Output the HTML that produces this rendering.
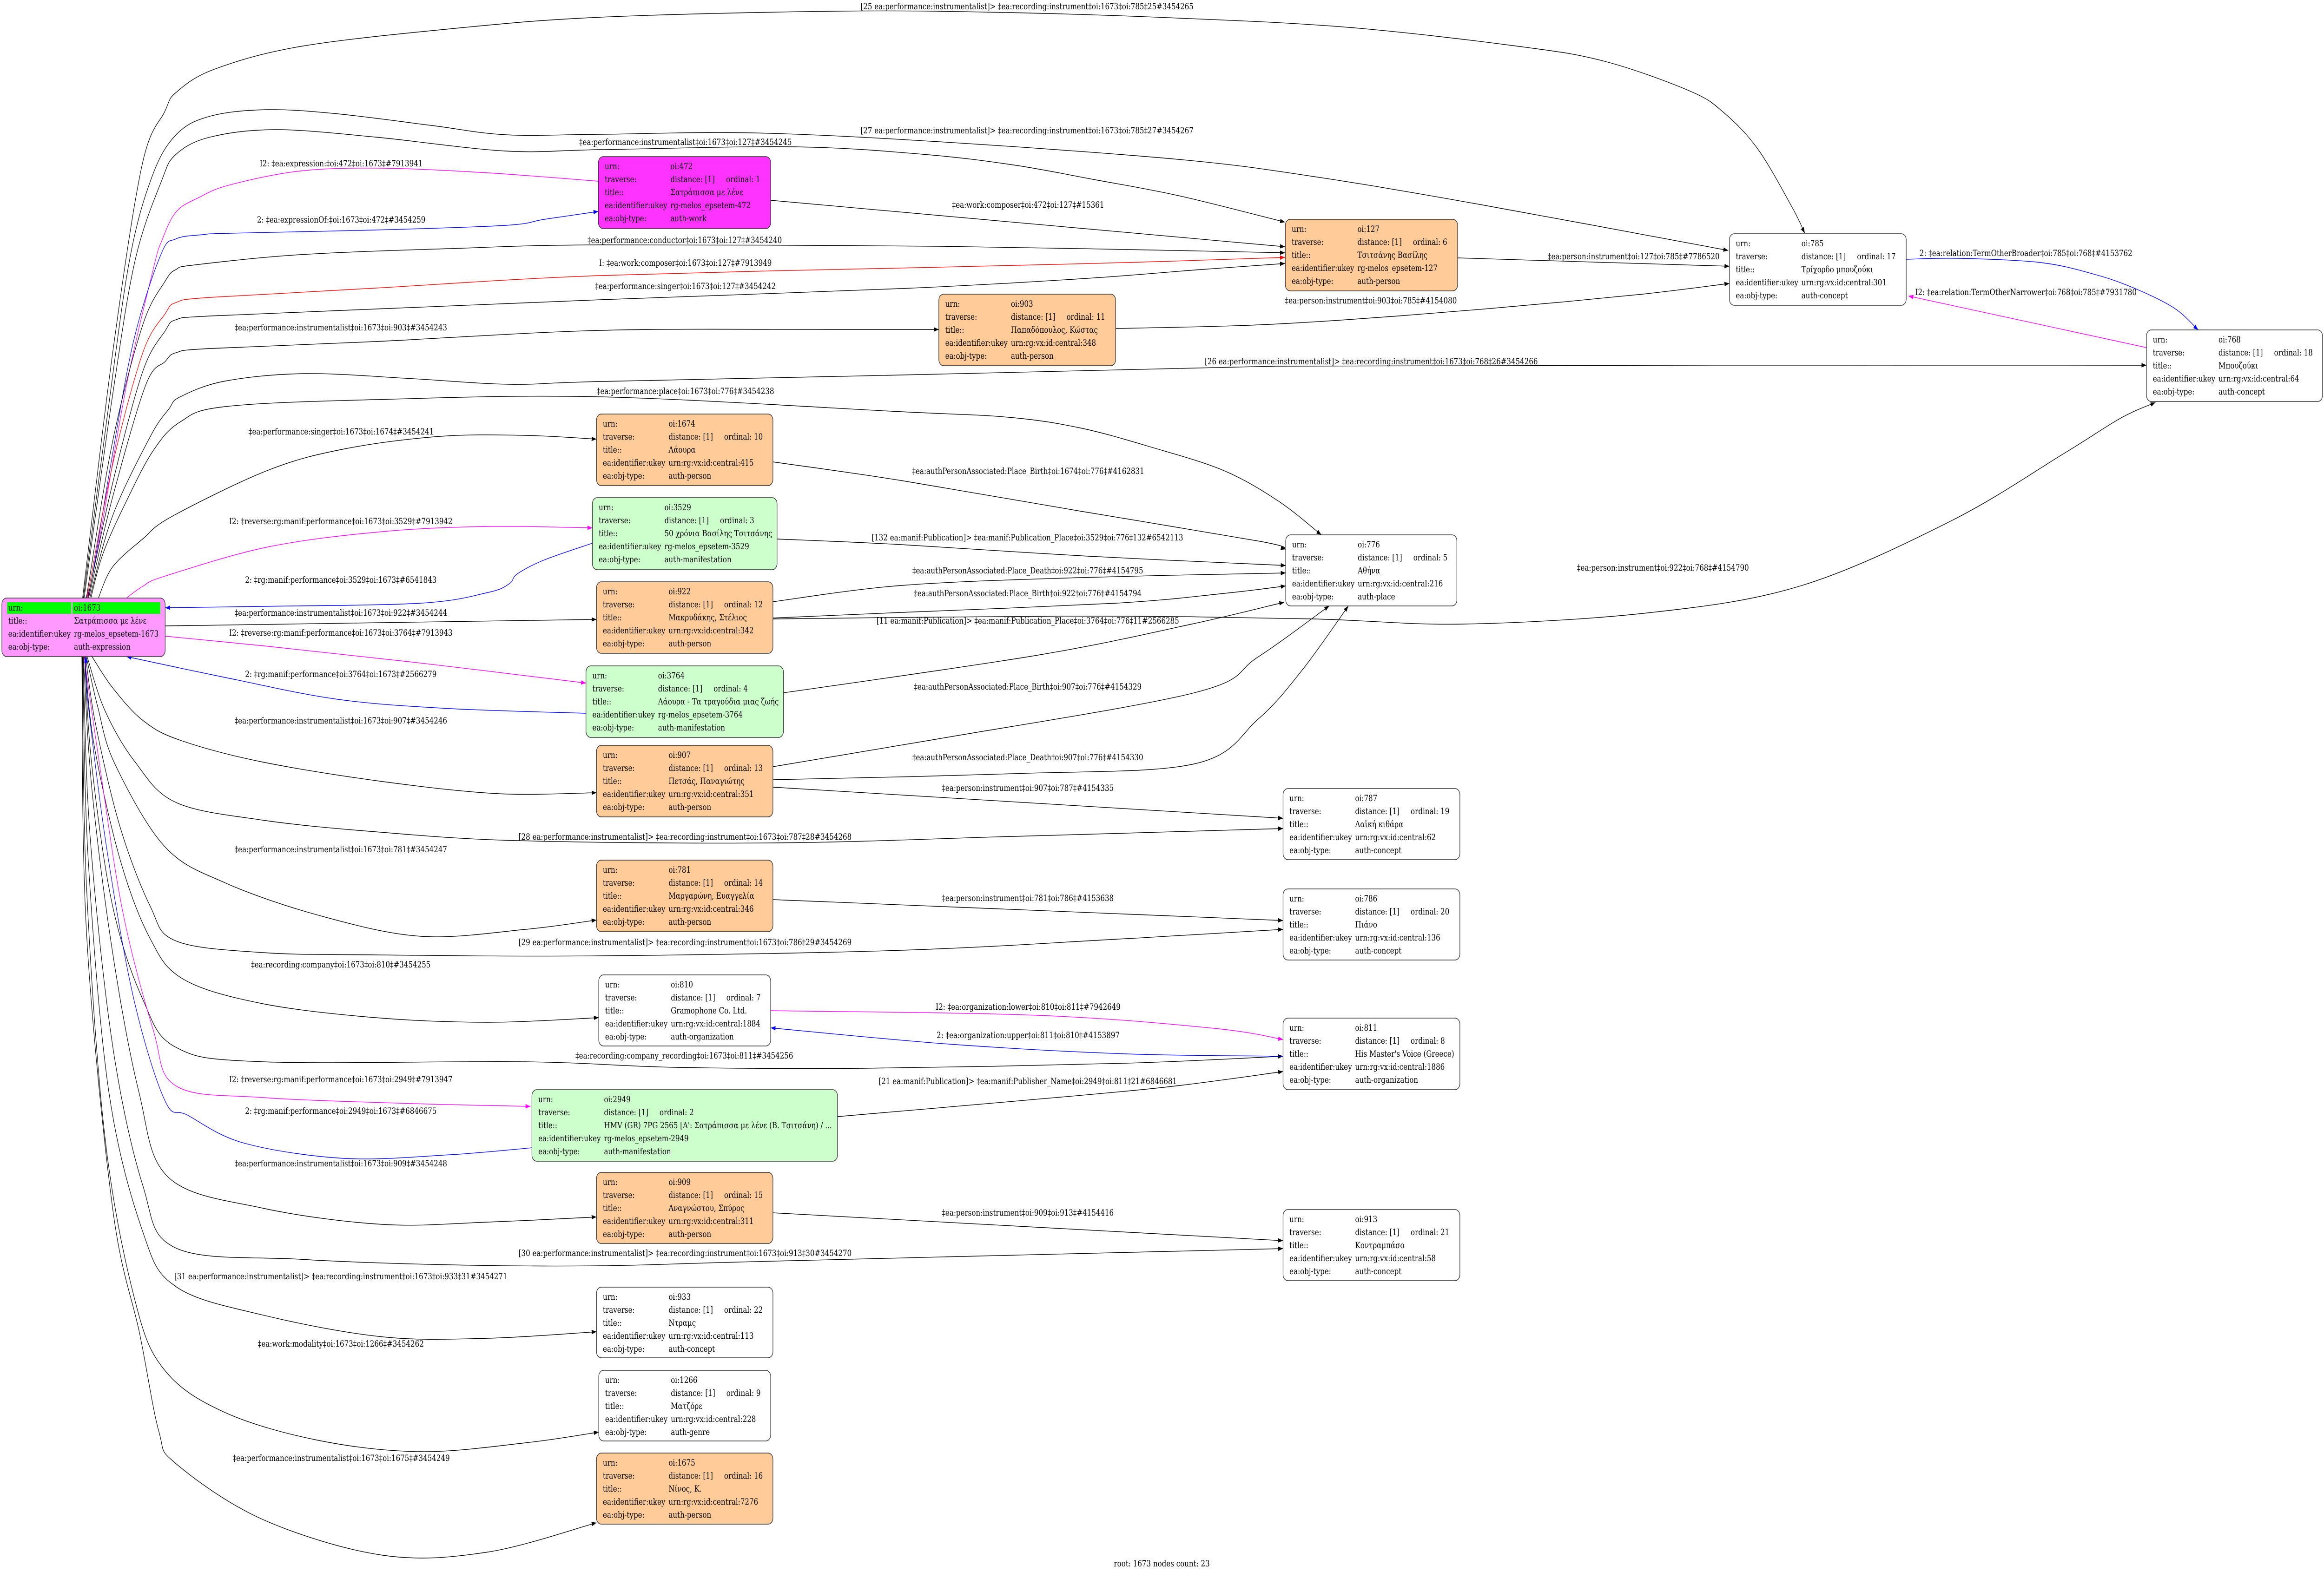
<!DOCTYPE html>
<html><head><meta charset="utf-8">
<style>
html,body{margin:0;padding:0;background:#fff;width:100%;height:100%;overflow:hidden;}
svg{display:block;width:100%;height:100%;font-family:"DejaVu Serif","Liberation Serif",serif;font-size:18.67px;}
.n rect.b{stroke:#333;stroke-width:1.5;}
path.e{fill:none;stroke-width:1.4;}
.k{stroke:#000;} .bl{stroke:#0000ff;} .mg{stroke:#ff00ff;} .rd{stroke:#ff0000;}
text.l{text-anchor:middle;}
</style></head><body>
<svg width="100%" height="100%" viewBox="0 0 6191 3383" preserveAspectRatio="none" xmlns="http://www.w3.org/2000/svg">
<defs>
<marker id="ak" markerWidth="14" markerHeight="10" refX="13" refY="5" orient="auto" markerUnits="userSpaceOnUse"><path d="M0,0.3 L13,5 L0,9.7z" fill="#000"/></marker>
<marker id="ab" markerWidth="14" markerHeight="10" refX="13" refY="5" orient="auto" markerUnits="userSpaceOnUse"><path d="M0,0.3 L13,5 L0,9.7z" fill="#0000ff"/></marker>
<marker id="am" markerWidth="14" markerHeight="10" refX="13" refY="5" orient="auto" markerUnits="userSpaceOnUse"><path d="M0,0.3 L13,5 L0,9.7z" fill="#ff00ff"/></marker>
<marker id="ar" markerWidth="14" markerHeight="10" refX="13" refY="5" orient="auto" markerUnits="userSpaceOnUse"><path d="M0,0.3 L13,5 L0,9.7z" fill="#ff0000"/></marker>
</defs>
<rect width="6191" height="3383" fill="#fff"/>

<!-- EDGES -->
<g>
<path class="e k" marker-end="url(#ak)" d="M220,1287 L300,760 L378,357 L439,240 L469,199 L571,149 L800,100 L1200,62 L1600,37 L2231,24 L2685,27 L3139,39 L3594,59 L4048,100 L4275,132 L4502,196 L4593,243 L4683,321 L4774,446 L4808,502"/>
<path class="e k" marker-end="url(#ak)" d="M222,1287 L285,900 L345,560 L405,380 L469,290 L560,250 L714,236 L900,245 L1150,270 L1347,290 L1600,289 L2004,286 L2500,305 L3139,343 L3500,380 L3942,440 L4604,539"/>
<path class="e k" marker-end="url(#ak)" d="M224,1287 L300,850 L360,560 L430,390 L469,332 L560,295 L735,279 L1000,295 L1347,325 L1600,322 L2118,316 L2458,332 L2700,355 L2912,386 L3139,421 L3423,478"/>
<path class="e mg" marker-end="url(#am)" d="M1594,390 L1300,372 L1020,362 L800,368 L612,398 L530,425 L469,456 L430,520 L408,580 L337,829 L265,1161 L234,1287"/>
<path class="e bl" marker-end="url(#ab)" d="M228,1287 L245,1244 L296,995 L357,730 L429,547 L469,514 L540,505 L612,502 L1000,495 L1347,485 L1450,472 L1594,455"/>
<path class="e k" marker-end="url(#ak)" d="M230,1287 L300,950 L380,700 L440,605 L469,580 L520,570 L800,548 L1200,535 L1600,527 L2500,530 L3000,537 L3423,544"/>
<path class="e rd" marker-end="url(#ar)" d="M232,1287 L300,1000 L380,760 L440,675 L469,651 L560,640 L1000,620 L1600,593 L2500,575 L3000,565 L3423,554"/>
<path class="e k" marker-end="url(#ak)" d="M234,1287 L300,1040 L380,800 L440,712 L469,688 L560,680 L1000,665 L1600,645 L2400,621 L2878,600 L3200,580 L3423,567"/>
<path class="e k" marker-end="url(#ak)" d="M236,1287 L300,1070 L388,829 L440,778 L469,759 L560,750 L1000,735 L1600,711 L2200,709 L2501,709"/>
<path class="e k" marker-end="url(#ak)" d="M239,1287 L300,1110 L400,940 L450,880 L480,854 L600,820 L816,804 L1100,815 L1357,827 L1600,821 L2400,807 L3400,788 L4500,786 L5718,786"/>
<path class="e k" marker-end="url(#ak)" d="M242,1287 L275,1190 L337,1078 L408,970 L480,908 L600,875 L1000,860 L1600,854 L2400,886 L2687,898 L2878,921 L3070,963 L3261,1013 L3405,1078 L3520,1151"/>
<path class="e k" marker-end="url(#ak)" d="M262,1287 L300,1220 L380,1160 L459,1111 L714,1012 L918,966 L1173,939 L1400,937 L1589,945"/>
<path class="e mg" marker-end="url(#am)" d="M337,1287 L380,1262 L439,1240 L714,1177 L1020,1144 L1300,1133 L1578,1136"/>
<path class="e bl" marker-end="url(#ab)" d="M1578,1169 L1450,1205 L1378,1235 L1357,1256 L1300,1275 L1122,1298 L700,1305 L440,1308"/>
<path class="e k" marker-end="url(#ak)" d="M440,1347 L1589,1333"/>
<path class="e mg" marker-end="url(#am)" d="M440,1369 L704,1390 L1100,1425 L1561,1470"/>
<path class="e bl" marker-end="url(#ab)" d="M1561,1535 L1200,1525 L900,1505 L612,1460 L337,1413"/>
<path class="e k" marker-end="url(#ak)" d="M245,1413 L300,1480 L380,1550 L480,1593 L700,1640 L1020,1682 L1327,1708 L1589,1706"/>
<path class="e k" marker-end="url(#ak)" d="M232,1413 L280,1530 L360,1640 L469,1727 L700,1765 L1000,1790 L1378,1809 L2060,1814 L2700,1800 L3418,1783"/>
<path class="e k" marker-end="url(#ak)" d="M230,1413 L260,1520 L306,1644 L439,1822 L600,1900 L850,1970 L1122,2015 L1400,2000 L1589,1980"/>
<path class="e k" marker-end="url(#ak)" d="M228,1413 L255,1560 L320,1780 L400,1950 L469,2025 L700,2050 L1000,2055 L1600,2057 L2400,2045 L3000,2020 L3418,2000"/>
<path class="e k" marker-end="url(#ak)" d="M226,1413 L250,1600 L320,1850 L400,2020 L490,2108 L700,2160 L1000,2190 L1300,2200 L1595,2190"/>
<path class="e k" marker-end="url(#ak)" d="M225,1413 L245,1650 L300,1950 L380,2150 L469,2254 L700,2285 L1400,2285 L1800,2297 L2300,2299 L3000,2288 L3418,2273"/>
<path class="e mg" marker-end="url(#am)" d="M224,1413 L265,1644 L327,1962 L408,2216 L469,2337 L700,2362 L1100,2375 L1413,2381"/>
<path class="e bl" marker-end="url(#ab)" d="M1417,2470 L1200,2485 L918,2493 L650,2460 L500,2400 L439,2368 L357,2152 L286,1835 L235,1517 L228,1413"/>
<path class="e k" marker-end="url(#ak)" d="M222,1413 L245,1700 L300,2050 L370,2350 L449,2534 L700,2600 L1020,2635 L1300,2630 L1589,2619"/>
<path class="e k" marker-end="url(#ak)" d="M221,1413 L240,1800 L300,2250 L380,2550 L469,2686 L800,2710 L1200,2722 L1600,2724 L2060,2714 L3418,2687"/>
<path class="e k" marker-end="url(#ak)" d="M220,1413 L235,1850 L290,2350 L380,2650 L469,2769 L700,2830 L1020,2877 L1300,2880 L1589,2866"/>
<path class="e k" marker-end="url(#ak)" d="M219,1413 L230,1900 L280,2450 L360,2800 L440,2950 L600,3040 L850,3100 L1122,3124 L1400,3105 L1595,3082"/>
<path class="e k" marker-end="url(#ak)" d="M218,1413 L230,2000 L300,2600 L372,2870 L423,3080 L469,3150 L700,3270 L1020,3347 L1300,3340 L1589,3277"/>
<path class="e k" marker-end="url(#ak)" d="M2053,431 L3423,531"/>
<path class="e k" marker-end="url(#ak)" d="M3883,555 L4607,573"/>
<path class="e k" marker-end="url(#ak)" d="M2972,707 L3357,699 L3725,680 L4051,658 L4376,633 L4607,610"/>
<path class="e bl" marker-end="url(#ab)" d="M5078,558 L5222,556 L5436,565 L5578,590 L5685,620 L5792,663 L5856,710"/>
<path class="e mg" marker-end="url(#am)" d="M5718,748 L5084,637"/>
<path class="e k" marker-end="url(#ak)" d="M2059,1332 L2500,1328 L3000,1326 L3500,1332 L3900,1343 L4400,1318 L4800,1260 L5200,1120 L5500,975 L5649,900 L5742,866"/>
<path class="e k" marker-end="url(#ak)" d="M2059,994 L2400,1034 L2878,1100 L3357,1165 L3425,1182"/>
<path class="e k" marker-end="url(#ak)" d="M2070,1160 L2400,1172 L2900,1197 L3425,1217"/>
<path class="e k" marker-end="url(#ak)" d="M2059,1295 L2400,1260 L2878,1243 L3425,1233"/>
<path class="e k" marker-end="url(#ak)" d="M2059,1330 L2400,1318 L2974,1298 L3261,1277 L3425,1261"/>
<path class="e k" marker-end="url(#ak)" d="M2087,1491 L2764,1410 L3175,1343 L3421,1296"/>
<path class="e k" marker-end="url(#ak)" d="M2059,1650 L2500,1590 L3181,1491 L3351,1414 L3541,1304"/>
<path class="e k" marker-end="url(#ak)" d="M2059,1678 L2700,1665 L3181,1644 L3351,1548 L3468,1443 L3592,1304"/>
<path class="e k" marker-end="url(#ak)" d="M2059,1694 L3418,1761"/>
<path class="e k" marker-end="url(#ak)" d="M2059,1936 L3418,1981"/>
<path class="e mg" marker-end="url(#am)" d="M2053,2175 L2764,2185 L3234,2213 L3418,2237"/>
<path class="e bl" marker-end="url(#ab)" d="M3418,2273 L2999,2268 L2529,2247 L2053,2212"/>
<path class="e k" marker-end="url(#ak)" d="M2231,2403 L2700,2370 L3100,2340 L3418,2306"/>
<path class="e k" marker-end="url(#ak)" d="M2059,2610 L3418,2670"/>
</g>

<!-- EDGE LABELS -->
<g>
<text class="l" x="2736" y="20">[25 ea:performance:instrumentalist]&gt; ‡ea:recording:instrument‡oi:1673‡oi:785‡25#3454265</text>
<text class="l" x="2736" y="287">[27 ea:performance:instrumentalist]&gt; ‡ea:recording:instrument‡oi:1673‡oi:785‡27#3454267</text>
<text class="l" x="1826" y="312">‡ea:performance:instrumentalist‡oi:1673‡oi:127‡#3454245</text>
<text class="l" x="909" y="358">I2: ‡ea:expression:‡oi:472‡oi:1673‡#7913941</text>
<text class="l" x="909" y="479">2: ‡ea:expressionOf:‡oi:1673‡oi:472‡#3454259</text>
<text class="l" x="2739" y="447">‡ea:work:composer‡oi:472‡oi:127‡#15361</text>
<text class="l" x="1824" y="523">‡ea:performance:conductor‡oi:1673‡oi:127‡#3454240</text>
<text class="l" x="1826" y="572">I: ‡ea:work:composer‡oi:1673‡oi:127‡#7913949</text>
<text class="l" x="4352" y="558">‡ea:person:instrument‡oi:127‡oi:785‡#7786520</text>
<text class="l" x="1826" y="622">‡ea:performance:singer‡oi:1673‡oi:127‡#3454242</text>
<text class="l" x="3652" y="653">‡ea:person:instrument‡oi:903‡oi:785‡#4154080</text>
<text class="l" x="5397" y="551">2: ‡ea:relation:TermOtherBroader‡oi:785‡oi:768‡#4153762</text>
<text class="l" x="5397" y="635">I2: ‡ea:relation:TermOtherNarrower‡oi:768‡oi:785‡#7931780</text>
<text class="l" x="908" y="711">‡ea:performance:instrumentalist‡oi:1673‡oi:903‡#3454243</text>
<text class="l" x="3653" y="784">[26 ea:performance:instrumentalist]&gt; ‡ea:recording:instrument‡oi:1673‡oi:768‡26#3454266</text>
<text class="l" x="1826" y="848">‡ea:performance:place‡oi:1673‡oi:776‡#3454238</text>
<text class="l" x="909" y="935">‡ea:performance:singer‡oi:1673‡oi:1674‡#3454241</text>
<text class="l" x="2739" y="1020">‡ea:authPersonAssociated:Place_Birth‡oi:1674‡oi:776‡#4162831</text>
<text class="l" x="908" y="1128">I2: ‡reverse:rg:manif:performance‡oi:1673‡oi:3529‡#7913942</text>
<text class="l" x="2737" y="1163">[132 ea:manif:Publication]&gt; ‡ea:manif:Publication_Place‡oi:3529‡oi:776‡132#6542113</text>
<text class="l" x="2738" y="1234">‡ea:authPersonAssociated:Place_Death‡oi:922‡oi:776‡#4154795</text>
<text class="l" x="4430" y="1228">‡ea:person:instrument‡oi:922‡oi:768‡#4154790</text>
<text class="l" x="908" y="1254">2: ‡rg:manif:performance‡oi:3529‡oi:1673‡#6541843</text>
<text class="l" x="2738" y="1283">‡ea:authPersonAssociated:Place_Birth‡oi:922‡oi:776‡#4154794</text>
<text class="l" x="908" y="1325">‡ea:performance:instrumentalist‡oi:1673‡oi:922‡#3454244</text>
<text class="l" x="2738" y="1342">[11 ea:manif:Publication]&gt; ‡ea:manif:Publication_Place‡oi:3764‡oi:776‡11#2566285</text>
<text class="l" x="908" y="1368">I2: ‡reverse:rg:manif:performance‡oi:1673‡oi:3764‡#7913943</text>
<text class="l" x="908" y="1457">2: ‡rg:manif:performance‡oi:3764‡oi:1673‡#2566279</text>
<text class="l" x="2738" y="1484">‡ea:authPersonAssociated:Place_Birth‡oi:907‡oi:776‡#4154329</text>
<text class="l" x="908" y="1557">‡ea:performance:instrumentalist‡oi:1673‡oi:907‡#3454246</text>
<text class="l" x="2738" y="1636">‡ea:authPersonAssociated:Place_Death‡oi:907‡oi:776‡#4154330</text>
<text class="l" x="2738" y="1702">‡ea:person:instrument‡oi:907‡oi:787‡#4154335</text>
<text class="l" x="1825" y="1807">[28 ea:performance:instrumentalist]&gt; ‡ea:recording:instrument‡oi:1673‡oi:787‡28#3454268</text>
<text class="l" x="908" y="1834">‡ea:performance:instrumentalist‡oi:1673‡oi:781‡#3454247</text>
<text class="l" x="2738" y="1939">‡ea:person:instrument‡oi:781‡oi:786‡#4153638</text>
<text class="l" x="1825" y="2034">[29 ea:performance:instrumentalist]&gt; ‡ea:recording:instrument‡oi:1673‡oi:786‡29#3454269</text>
<text class="l" x="908" y="2082">‡ea:recording:company‡oi:1673‡oi:810‡#3454255</text>
<text class="l" x="2739" y="2173">I2: ‡ea:organization:lower‡oi:810‡oi:811‡#7942649</text>
<text class="l" x="2739" y="2234">2: ‡ea:organization:upper‡oi:811‡oi:810‡#4153897</text>
<text class="l" x="1823" y="2278">‡ea:recording:company_recording‡oi:1673‡oi:811‡#3454256</text>
<text class="l" x="908" y="2329">I2: ‡reverse:rg:manif:performance‡oi:1673‡oi:2949‡#7913947</text>
<text class="l" x="2738" y="2333">[21 ea:manif:Publication]&gt; ‡ea:manif:Publisher_Name‡oi:2949‡oi:811‡21#6846681</text>
<text class="l" x="908" y="2397">2: ‡rg:manif:performance‡oi:2949‡oi:1673‡#6846675</text>
<text class="l" x="908" y="2510">‡ea:performance:instrumentalist‡oi:1673‡oi:909‡#3454248</text>
<text class="l" x="2738" y="2616">‡ea:person:instrument‡oi:909‡oi:913‡#4154416</text>
<text class="l" x="1825" y="2703">[30 ea:performance:instrumentalist]&gt; ‡ea:recording:instrument‡oi:1673‡oi:913‡30#3454270</text>
<text class="l" x="908" y="2753">[31 ea:performance:instrumentalist]&gt; ‡ea:recording:instrument‡oi:1673‡oi:933‡31#3454271</text>
<text class="l" x="908" y="2898">‡ea:work:modality‡oi:1673‡oi:1266‡#3454262</text>
<text class="l" x="909" y="3144">‡ea:performance:instrumentalist‡oi:1673‡oi:1675‡#3454249</text>
<text class="l" x="3095" y="3371">root: 1673 nodes count: 23</text>
</g>

<!-- NODES -->
<g class="n">
<g transform="translate(5,1287)"><rect class="b" width="435" height="126" rx="13" fill="#ff99ff"/><rect x="14" y="9" width="171" height="25" fill="#00ff00"/><rect x="188" y="9" width="234" height="25" fill="#00ff00"/><text x="17" y="27">urn:</text><text x="192" y="27">oi:1673</text><text x="17" y="55">title::</text><text x="192" y="55">Σατράπισσα με λένε</text><text x="17" y="83">ea:identifier:ukey</text><text x="192" y="83">rg-melos_epsetem-1673</text><text x="17" y="111">ea:obj-type:</text><text x="192" y="111">auth-expression</text></g>

<g transform="translate(1594,337)"><rect class="b" width="459" height="155" rx="13" fill="#ff33ff"/><text x="17" y="27">urn:</text><text x="192" y="27">oi:472</text><text x="17" y="55">traverse:</text><text x="192" y="55">distance: [1]</text><text x="340" y="55">ordinal: 1</text><text x="17" y="83">title::</text><text x="192" y="83">Σατράπισσα με λένε</text><text x="17" y="111">ea:identifier:ukey</text><text x="192" y="111">rg-melos_epsetem-472</text><text x="17" y="139">ea:obj-type:</text><text x="192" y="139">auth-work</text></g>

<g transform="translate(3424,472)"><rect class="b" width="459" height="154" rx="13" fill="#ffcc99"/><text x="17" y="27">urn:</text><text x="192" y="27">oi:127</text><text x="17" y="55">traverse:</text><text x="192" y="55">distance: [1]</text><text x="340" y="55">ordinal: 6</text><text x="17" y="83">title::</text><text x="192" y="83">Τσιτσάνης Βασίλης</text><text x="17" y="111">ea:identifier:ukey</text><text x="192" y="111">rg-melos_epsetem-127</text><text x="17" y="139">ea:obj-type:</text><text x="192" y="139">auth-person</text></g>

<g transform="translate(4607,503)"><rect class="b" width="471" height="154" rx="13" fill="#ffffff"/><text x="17" y="27">urn:</text><text x="192" y="27">oi:785</text><text x="17" y="55">traverse:</text><text x="192" y="55">distance: [1]</text><text x="340" y="55">ordinal: 17</text><text x="17" y="83">title::</text><text x="192" y="83">Τρίχορδο μπουζούκι</text><text x="17" y="111">ea:identifier:ukey</text><text x="192" y="111">urn:rg:vx:id:central:301</text><text x="17" y="139">ea:obj-type:</text><text x="192" y="139">auth-concept</text></g>

<g transform="translate(2501,633)"><rect class="b" width="471" height="154" rx="13" fill="#ffcc99"/><text x="17" y="27">urn:</text><text x="192" y="27">oi:903</text><text x="17" y="55">traverse:</text><text x="192" y="55">distance: [1]</text><text x="340" y="55">ordinal: 11</text><text x="17" y="83">title::</text><text x="192" y="83">Παπαδόπουλος, Κώστας</text><text x="17" y="111">ea:identifier:ukey</text><text x="192" y="111">urn:rg:vx:id:central:348</text><text x="17" y="139">ea:obj-type:</text><text x="192" y="139">auth-person</text></g>

<g transform="translate(5718,710)"><rect class="b" width="469" height="154" rx="13" fill="#ffffff"/><text x="17" y="27">urn:</text><text x="192" y="27">oi:768</text><text x="17" y="55">traverse:</text><text x="192" y="55">distance: [1]</text><text x="340" y="55">ordinal: 18</text><text x="17" y="83">title::</text><text x="192" y="83">Μπουζούκι</text><text x="17" y="111">ea:identifier:ukey</text><text x="192" y="111">urn:rg:vx:id:central:64</text><text x="17" y="139">ea:obj-type:</text><text x="192" y="139">auth-concept</text></g>

<g transform="translate(1589,891)"><rect class="b" width="470" height="154" rx="13" fill="#ffcc99"/><text x="17" y="27">urn:</text><text x="192" y="27">oi:1674</text><text x="17" y="55">traverse:</text><text x="192" y="55">distance: [1]</text><text x="340" y="55">ordinal: 10</text><text x="17" y="83">title::</text><text x="192" y="83">Λάουρα</text><text x="17" y="111">ea:identifier:ukey</text><text x="192" y="111">urn:rg:vx:id:central:415</text><text x="17" y="139">ea:obj-type:</text><text x="192" y="139">auth-person</text></g>

<g transform="translate(1578,1071)"><rect class="b" width="492" height="155" rx="13" fill="#ccffcc"/><text x="17" y="27">urn:</text><text x="192" y="27">oi:3529</text><text x="17" y="55">traverse:</text><text x="192" y="55">distance: [1]</text><text x="340" y="55">ordinal: 3</text><text x="17" y="83">title::</text><text x="192" y="83">50 χρόνια Βασίλης Τσιτσάνης</text><text x="17" y="111">ea:identifier:ukey</text><text x="192" y="111">rg-melos_epsetem-3529</text><text x="17" y="139">ea:obj-type:</text><text x="192" y="139">auth-manifestation</text></g>

<g transform="translate(3425,1151)"><rect class="b" width="456" height="153" rx="13" fill="#ffffff"/><text x="17" y="27">urn:</text><text x="192" y="27">oi:776</text><text x="17" y="55">traverse:</text><text x="192" y="55">distance: [1]</text><text x="340" y="55">ordinal: 5</text><text x="17" y="83">title::</text><text x="192" y="83">Αθήνα</text><text x="17" y="111">ea:identifier:ukey</text><text x="192" y="111">urn:rg:vx:id:central:216</text><text x="17" y="139">ea:obj-type:</text><text x="192" y="139">auth-place</text></g>

<g transform="translate(1589,1252)"><rect class="b" width="470" height="154" rx="13" fill="#ffcc99"/><text x="17" y="27">urn:</text><text x="192" y="27">oi:922</text><text x="17" y="55">traverse:</text><text x="192" y="55">distance: [1]</text><text x="340" y="55">ordinal: 12</text><text x="17" y="83">title::</text><text x="192" y="83">Μακρυδάκης, Στέλιος</text><text x="17" y="111">ea:identifier:ukey</text><text x="192" y="111">urn:rg:vx:id:central:342</text><text x="17" y="139">ea:obj-type:</text><text x="192" y="139">auth-person</text></g>

<g transform="translate(1561,1433)"><rect class="b" width="526" height="154" rx="13" fill="#ccffcc"/><text x="17" y="27">urn:</text><text x="192" y="27">oi:3764</text><text x="17" y="55">traverse:</text><text x="192" y="55">distance: [1]</text><text x="340" y="55">ordinal: 4</text><text x="17" y="83">title::</text><text x="192" y="83">Λάουρα - Τα τραγούδια μιας ζωής</text><text x="17" y="111">ea:identifier:ukey</text><text x="192" y="111">rg-melos_epsetem-3764</text><text x="17" y="139">ea:obj-type:</text><text x="192" y="139">auth-manifestation</text></g>

<g transform="translate(1589,1604)"><rect class="b" width="470" height="154" rx="13" fill="#ffcc99"/><text x="17" y="27">urn:</text><text x="192" y="27">oi:907</text><text x="17" y="55">traverse:</text><text x="192" y="55">distance: [1]</text><text x="340" y="55">ordinal: 13</text><text x="17" y="83">title::</text><text x="192" y="83">Πετσάς, Παναγιώτης</text><text x="17" y="111">ea:identifier:ukey</text><text x="192" y="111">urn:rg:vx:id:central:351</text><text x="17" y="139">ea:obj-type:</text><text x="192" y="139">auth-person</text></g>

<g transform="translate(3418,1697)"><rect class="b" width="471" height="153" rx="13" fill="#ffffff"/><text x="17" y="27">urn:</text><text x="192" y="27">oi:787</text><text x="17" y="55">traverse:</text><text x="192" y="55">distance: [1]</text><text x="340" y="55">ordinal: 19</text><text x="17" y="83">title::</text><text x="192" y="83">Λαϊκή κιθάρα</text><text x="17" y="111">ea:identifier:ukey</text><text x="192" y="111">urn:rg:vx:id:central:62</text><text x="17" y="139">ea:obj-type:</text><text x="192" y="139">auth-concept</text></g>

<g transform="translate(1589,1851)"><rect class="b" width="470" height="154" rx="13" fill="#ffcc99"/><text x="17" y="27">urn:</text><text x="192" y="27">oi:781</text><text x="17" y="55">traverse:</text><text x="192" y="55">distance: [1]</text><text x="340" y="55">ordinal: 14</text><text x="17" y="83">title::</text><text x="192" y="83">Μαργαρώνη, Ευαγγελία</text><text x="17" y="111">ea:identifier:ukey</text><text x="192" y="111">urn:rg:vx:id:central:346</text><text x="17" y="139">ea:obj-type:</text><text x="192" y="139">auth-person</text></g>

<g transform="translate(3418,1913)"><rect class="b" width="471" height="153" rx="13" fill="#ffffff"/><text x="17" y="27">urn:</text><text x="192" y="27">oi:786</text><text x="17" y="55">traverse:</text><text x="192" y="55">distance: [1]</text><text x="340" y="55">ordinal: 20</text><text x="17" y="83">title::</text><text x="192" y="83">Πιάνο</text><text x="17" y="111">ea:identifier:ukey</text><text x="192" y="111">urn:rg:vx:id:central:136</text><text x="17" y="139">ea:obj-type:</text><text x="192" y="139">auth-concept</text></g>

<g transform="translate(1595,2098)"><rect class="b" width="458" height="153" rx="13" fill="#ffffff"/><text x="17" y="27">urn:</text><text x="192" y="27">oi:810</text><text x="17" y="55">traverse:</text><text x="192" y="55">distance: [1]</text><text x="340" y="55">ordinal: 7</text><text x="17" y="83">title::</text><text x="192" y="83">Gramophone Co. Ltd.</text><text x="17" y="111">ea:identifier:ukey</text><text x="192" y="111">urn:rg:vx:id:central:1884</text><text x="17" y="139">ea:obj-type:</text><text x="192" y="139">auth-organization</text></g>

<g transform="translate(3418,2191)"><rect class="b" width="471" height="154" rx="13" fill="#ffffff"/><text x="17" y="27">urn:</text><text x="192" y="27">oi:811</text><text x="17" y="55">traverse:</text><text x="192" y="55">distance: [1]</text><text x="340" y="55">ordinal: 8</text><text x="17" y="83">title::</text><text x="192" y="83">His Master's Voice (Greece)</text><text x="17" y="111">ea:identifier:ukey</text><text x="192" y="111">urn:rg:vx:id:central:1886</text><text x="17" y="139">ea:obj-type:</text><text x="192" y="139">auth-organization</text></g>

<g transform="translate(1417,2345)"><rect class="b" width="814" height="154" rx="13" fill="#ccffcc"/><text x="17" y="27">urn:</text><text x="192" y="27">oi:2949</text><text x="17" y="55">traverse:</text><text x="192" y="55">distance: [1]</text><text x="340" y="55">ordinal: 2</text><text x="17" y="83">title::</text><text x="192" y="83">HMV (GR) 7PG 2565 [A': Σατράπισσα με λένε (Β. Τσιτσάνη) / ...</text><text x="17" y="111">ea:identifier:ukey</text><text x="192" y="111">rg-melos_epsetem-2949</text><text x="17" y="139">ea:obj-type:</text><text x="192" y="139">auth-manifestation</text></g>

<g transform="translate(1589,2523)"><rect class="b" width="470" height="153" rx="13" fill="#ffcc99"/><text x="17" y="27">urn:</text><text x="192" y="27">oi:909</text><text x="17" y="55">traverse:</text><text x="192" y="55">distance: [1]</text><text x="340" y="55">ordinal: 15</text><text x="17" y="83">title::</text><text x="192" y="83">Αναγνώστου, Σπύρος</text><text x="17" y="111">ea:identifier:ukey</text><text x="192" y="111">urn:rg:vx:id:central:311</text><text x="17" y="139">ea:obj-type:</text><text x="192" y="139">auth-person</text></g>

<g transform="translate(3418,2603)"><rect class="b" width="471" height="153" rx="13" fill="#ffffff"/><text x="17" y="27">urn:</text><text x="192" y="27">oi:913</text><text x="17" y="55">traverse:</text><text x="192" y="55">distance: [1]</text><text x="340" y="55">ordinal: 21</text><text x="17" y="83">title::</text><text x="192" y="83">Κοντραμπάσο</text><text x="17" y="111">ea:identifier:ukey</text><text x="192" y="111">urn:rg:vx:id:central:58</text><text x="17" y="139">ea:obj-type:</text><text x="192" y="139">auth-concept</text></g>

<g transform="translate(1589,2770)"><rect class="b" width="470" height="152" rx="13" fill="#ffffff"/><text x="17" y="27">urn:</text><text x="192" y="27">oi:933</text><text x="17" y="55">traverse:</text><text x="192" y="55">distance: [1]</text><text x="340" y="55">ordinal: 22</text><text x="17" y="83">title::</text><text x="192" y="83">Ντραμς</text><text x="17" y="111">ea:identifier:ukey</text><text x="192" y="111">urn:rg:vx:id:central:113</text><text x="17" y="139">ea:obj-type:</text><text x="192" y="139">auth-concept</text></g>

<g transform="translate(1595,2949)"><rect class="b" width="458" height="152" rx="13" fill="#ffffff"/><text x="17" y="27">urn:</text><text x="192" y="27">oi:1266</text><text x="17" y="55">traverse:</text><text x="192" y="55">distance: [1]</text><text x="340" y="55">ordinal: 9</text><text x="17" y="83">title::</text><text x="192" y="83">Ματζόρε</text><text x="17" y="111">ea:identifier:ukey</text><text x="192" y="111">urn:rg:vx:id:central:228</text><text x="17" y="139">ea:obj-type:</text><text x="192" y="139">auth-genre</text></g>

<g transform="translate(1589,3127)"><rect class="b" width="470" height="153" rx="13" fill="#ffcc99"/><text x="17" y="27">urn:</text><text x="192" y="27">oi:1675</text><text x="17" y="55">traverse:</text><text x="192" y="55">distance: [1]</text><text x="340" y="55">ordinal: 16</text><text x="17" y="83">title::</text><text x="192" y="83">Νίνος, Κ.</text><text x="17" y="111">ea:identifier:ukey</text><text x="192" y="111">urn:rg:vx:id:central:7276</text><text x="17" y="139">ea:obj-type:</text><text x="192" y="139">auth-person</text></g>
</g>
</svg>
<script>
(function(){
var ps=document.querySelectorAll('path.e');
for(var k=0;k<ps.length;k++){
var p=ps[k];var n=p.getAttribute('d').match(/-?[\d.]+/g).map(Number);
var P=[];for(var i=0;i<n.length;i+=2)P.push([n[i],n[i+1]]);
if(P.length<3)continue;
var d='M'+P[0][0]+','+P[0][1];
for(var i=0;i<P.length-1;i++){
var p0=P[i-1]||P[i],p1=P[i],p2=P[i+1],p3=P[i+2]||p2;
var c1x=p1[0]+(p2[0]-p0[0])/6,c1y=p1[1]+(p2[1]-p0[1])/6;
var c2x=p2[0]-(p3[0]-p1[0])/6,c2y=p2[1]-(p3[1]-p1[1])/6;
d+=' C'+c1x.toFixed(1)+','+c1y.toFixed(1)+' '+c2x.toFixed(1)+','+c2y.toFixed(1)+' '+p2[0]+','+p2[1];
}
p.setAttribute('d',d);
}
})();
</script>
</body></html>
